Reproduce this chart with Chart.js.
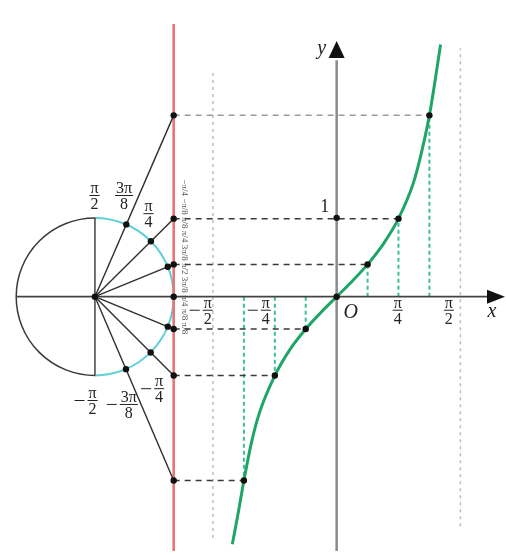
<!DOCTYPE html>
<html><head><meta charset="utf-8">
<script src="https://cdn.jsdelivr.net/npm/chart.js@4/dist/chart.umd.min.js"></script>
<style>html,body{margin:0;padding:0;background:#fff}#wrap{width:506px;height:555px}</style>
</head><body><div id="wrap"><canvas id="c" width="506" height="555"></canvas></div>
<script>
// ---- data ----
const angleNames = ['3π/8', 'π/4', 'π/8', '0', '−π/8', '−π/4', '−3π/8'];
const angleX = [1.178, 0.785, 0.393, 0, -0.393, -0.785, -1.178];
const tanRead = [2.30, 0.99, 0.41, 0, -0.41, -1.00, -2.33];
const curveX = [-1.325, -1.25, -1.178, -1.08, -0.98, -0.785, -0.6, -0.393, -0.2, 0, 0.2, 0.393, 0.6, 0.785, 0.98, 1.08, 1.178, 1.25, 1.32];
const curveY = [-3.14, -2.74, -2.33, -1.84, -1.47, -1.00, -0.68, -0.41, -0.2, 0, 0.2, 0.41, 0.68, 0.99, 1.46, 1.84, 2.30, 2.74, 3.20];
const circleCenterX = -3.07;
const tangentLineX = -2.07;
const asymptoteX = [-1.571, 1.571];
const xTickLabels = ['−π/2', '−π/4', 'π/4', 'π/2'];
const circleLabels = ['π/2', '3π/8', 'π/4', '−π/2', '−3π/8', '−π/4'];

// ---- build datasets ----
const ds = [];
function seg(pts, color, width, dash, order) {
  ds.push({data: pts.map(p => ({x: p[0], y: p[1]})), showLine: true, borderColor: color,
    borderWidth: width, borderDash: dash || [], pointRadius: 0, order: order, tension: 0, fill: false});
}
// asymptotes
seg([[asymptoteX[0], -3.06], [asymptoteX[0], 2.87]], '#bdbdbd', 1.5, [3, 4], 6);
seg([[asymptoteX[1], -2.91], [asymptoteX[1], 3.15]], '#bdbdbd', 1.5, [3, 4], 6);
// axes
seg([[circleCenterX - 1, 0], [2.0, 0]], '#444', 1.7, [], 4);
seg([[0, -3.3], [0, 3.0]], '#8a8a8a', 2.5, [], 4);
// red tangent line
seg([[tangentLineX, -3.3], [tangentLineX, 3.46]], '#ea7473', 2.6, [], 3);
// vertical diameter
seg([[circleCenterX, -1], [circleCenterX, 1]], '#333', 1.4, [], 3);
angleX.forEach((ax, i) => {
  const t = tanRead[i];
  if (t === 0) return;
  // dashed horizontal from tangent line to curve
  seg([[tangentLineX, t], [ax, t]], i === 0 ? '#9a9a9a' : '#3a3a3a', 1.5, [6, 5], 5);
  // green dashed vertical from curve to x-axis
  seg([[ax, 0], [ax, t]], '#3cbf9a', 2, [4, 3], 5);
  // ray from center to tangent line
  seg([[circleCenterX, 0], [tangentLineX, t]], '#2e2e2e', 1.4, [], 2);
});
// tangent curve
ds.push({data: curveX.map((x, i) => ({x, y: curveY[i]})), showLine: true, borderColor: '#1fa565',
  borderWidth: 3, pointRadius: 0, cubicInterpolationMode: 'monotone', order: 1, fill: false});
// dots
const dots = [{x: circleCenterX, y: 0}, {x: 0, y: 0}, {x: 0, y: 1}];
angleX.forEach((ax, i) => {
  const t = tanRead[i];
  const n = Math.sqrt(1 + t * t);
  dots.push({x: tangentLineX, y: t});
  if (t !== 0) {
    dots.push({x: circleCenterX + 1 / n, y: t / n});
    dots.push({x: ax, y: t});
  }
});
ds.push({data: dots, showLine: false, pointRadius: 3.2, pointBackgroundColor: '#111', pointBorderWidth: 0, order: 0});

// ---- plugin for circle, arrows and text ----
const serif = '"Liberation Serif", "DejaVu Serif", serif';
function frac(ctx, s, px, py, size) {
  let minus = false;
  if (s[0] === '−') { minus = true; s = s.slice(1); }
  const [num, den] = s.split('/');
  ctx.font = size + 'px ' + serif;
  const w = Math.max(ctx.measureText(num).width, ctx.measureText(den).width) + 2;
  ctx.fillStyle = '#222'; ctx.strokeStyle = '#222'; ctx.lineWidth = 1;
  ctx.textAlign = 'center';
  ctx.textBaseline = 'alphabetic';
  ctx.fillText(num, px, py - 2);
  ctx.textBaseline = 'top';
  ctx.fillText(den, px, py + 2);
  ctx.beginPath(); ctx.moveTo(px - w / 2, py + 0.5); ctx.lineTo(px + w / 2, py + 0.5); ctx.stroke();
  if (minus) {
    ctx.beginPath(); ctx.moveTo(px - w / 2 - 13, py + 0.5); ctx.lineTo(px - w / 2 - 3, py + 0.5); ctx.stroke();
  }
}
const drawPlugin = {
  id: 'geo',
  beforeDatasetsDraw(chart) {
    const {ctx, scales: {x, y}} = chart;
    const cx = x.getPixelForValue(circleCenterX), cy = y.getPixelForValue(0);
    const r = x.getPixelForValue(circleCenterX + 1) - cx;
    ctx.save();
    ctx.lineWidth = 1.5; ctx.strokeStyle = '#3a3a3a';
    ctx.beginPath(); ctx.arc(cx, cy, r, Math.PI / 2, 3 * Math.PI / 2); ctx.stroke();
    ctx.strokeStyle = '#5fcfd6'; ctx.lineWidth = 2;
    ctx.beginPath(); ctx.arc(cx, cy, r, -Math.PI / 2, Math.PI / 2); ctx.stroke();
    ctx.restore();
  },
  afterDatasetsDraw(chart) {
    const {ctx, scales: {x, y}} = chart;
    const X = v => x.getPixelForValue(v), Y = v => y.getPixelForValue(v);
    ctx.save();
    // arrows
    ctx.fillStyle = '#111';
    const ox = X(0), oy = Y(0);
    ctx.beginPath(); ctx.moveTo(505, oy); ctx.lineTo(487, oy - 7); ctx.lineTo(487, oy + 7); ctx.closePath(); ctx.fill();
    ctx.beginPath(); ctx.moveTo(ox, 41); ctx.lineTo(ox - 8, 58); ctx.lineTo(ox + 8, 58); ctx.closePath(); ctx.fill();
    // axis letters
    ctx.font = 'italic 20px ' + serif; ctx.fillStyle = '#222'; ctx.textAlign = 'center'; ctx.textBaseline = 'middle';
    ctx.fillText('y', ox - 15, 49);
    ctx.fillText('x', 492, oy + 15);
    ctx.fillText('O', ox + 14, oy + 16);
    ctx.font = '18px ' + serif;
    ctx.fillText('1', ox - 12, Y(1) - 11);
    // x tick labels
    const tickPos = [-1.6375, -0.9, 0.775, 1.425];
    xTickLabels.forEach((s, i) => frac(ctx, s, X(tickPos[i]), oy + 13, 16));
    // circle angle labels
    const cl = [[-3.075, 1.29], [-2.70, 1.29], [-2.39, 1.06], [-3.10, -1.31], [-2.64, -1.36], [-2.255, -1.16]];
    circleLabels.forEach((s, i) => frac(ctx, s, X(cl[i][0]), Y(cl[i][1]), 16));
    // small column of tiny labels beside the tangent line
    ctx.translate(X(tangentLineX) + 11, Y(0));
    ctx.rotate(Math.PI / 2);
    ctx.font = '9px ' + serif; ctx.fillStyle = '#555'; ctx.textAlign = 'center'; ctx.textBaseline = 'middle';
    ctx.fillText('−π/4 −π/8 π/8 π/4 3π/8 π/2 3π/8 π/4 π/8 π/8', -40, 0);
    ctx.restore();
  }
};

new Chart(document.getElementById('c'), {
  type: 'scatter',
  data: {datasets: ds},
  options: {
    responsive: false, animation: false, devicePixelRatio: 1,
    layout: {padding: 0},
    plugins: {legend: {display: false}, tooltip: {enabled: false}},
    scales: {
      x: {type: 'linear', min: -4.225, max: 2.1, display: false},
      y: {type: 'linear', min: -3.225, max: 3.7125, display: false}
    }
  },
  plugins: [drawPlugin]
});
</script></body></html>
